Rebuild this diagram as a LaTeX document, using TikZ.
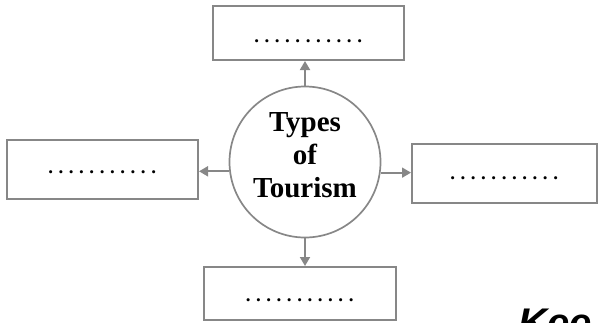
\documentclass[tikz,border=0pt]{standalone}
\usepackage{fontspec}
\setmainfont{Liberation Serif}
\newfontfamily\kfont{Liberation Sans}
\usetikzlibrary{arrows.meta}
\definecolor{linegray}{RGB}{135,135,135}
\newcommand{\dotrow}[1]{\rule{0pt}{#1}\hbox to 114pt{\leaders\hbox to 10.3pt{\hss.\hss}\hfill}}
\tikzset{
  blank/.style={draw=linegray, line width=2pt, rectangle, inner sep=0pt,
    font=\fontsize{19}{19}\selectfont\bfseries},
  hub/.style={draw=linegray, line width=1.7pt, circle, inner sep=0pt,
    minimum size=151pt, align=center, text depth=14pt,
    font=\fontsize{29}{33}\selectfont\bfseries},
  arr/.style={draw=linegray, line width=1.8pt,
    -{Triangle[length=9pt,width=10pt]}}
}
\begin{document}
\begin{tikzpicture}[x=1pt,y=-1pt]
\clip (0,0) rectangle (599,322);
\useasboundingbox (0,0) rectangle (599,322);
\node[hub] (c) at (305,162) {Types\\of\\Tourism};
\node[blank, minimum width=191pt, minimum height=54pt] (t) at (308.5,33) {\dotrow{20pt}};
\node[blank, minimum width=191pt, minimum height=59pt] (l) at (102.5,169.5) {\dotrow{9pt}};
\node[blank, minimum width=185pt, minimum height=59pt] (r) at (504.5,173.5) {\dotrow{13pt}};
\node[blank, minimum width=192pt, minimum height=53pt] (b) at (300,293.5) {\dotrow{17pt}};
\draw[arr] (c.north) -- (c.north |- t.south);
\draw[arr] (c.south) -- (c.south |- b.north);
\draw[arr] (c.187.6) -- (c.187.6 -| l.east);
\draw[arr] (c.-8.4) -- (c.-8.4 -| r.west);
\node[anchor=base west, inner sep=0pt, font=\kfont\fontsize{40}{40}\selectfont\bfseries\itshape] (k) at (518,336) {Kee};
\end{tikzpicture}
\end{document}
